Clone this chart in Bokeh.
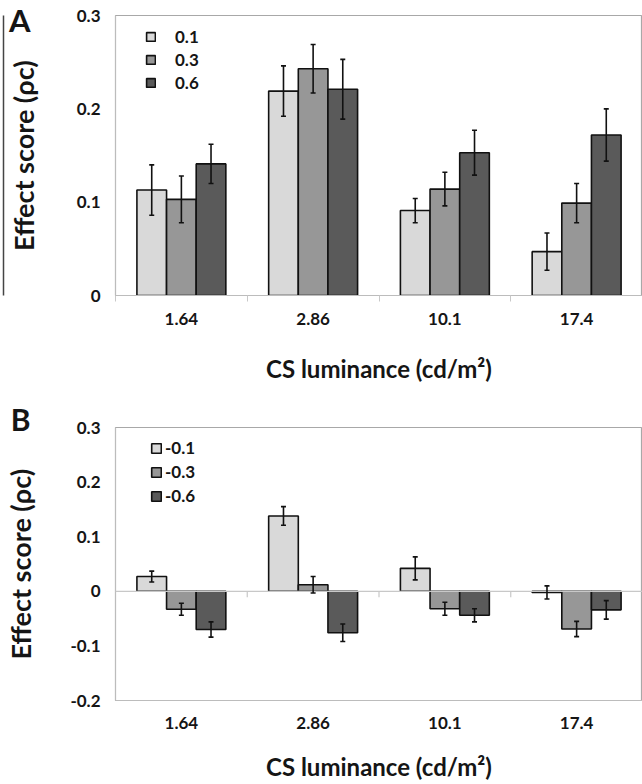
from bokeh.plotting import figure
from bokeh.models import (Range1d, FixedTicker, Whisker, TeeHead, ColumnDataSource,
                          Legend, LegendItem, Span, LinearAxis)
from bokeh.layouts import column
from bokeh.embed import file_html
from bokeh.resources import INLINE

# ---------------- data ----------------
categories = ["1.64", "2.86", "10.1", "17.4"]

A_series = ["0.1", "0.3", "0.6"]
A_vals_01 = [0.113, 0.219, 0.091, 0.047]
A_err_01 = [0.027, 0.027, 0.013, 0.020]
A_vals_03 = [0.103, 0.243, 0.114, 0.099]
A_err_03 = [0.025, 0.026, 0.018, 0.021]
A_vals_06 = [0.141, 0.221, 0.153, 0.172]
A_err_06 = [0.021, 0.032, 0.024, 0.028]

B_series = ["-0.1", "-0.3", "-0.6"]
B_vals_m01 = [0.027, 0.138, 0.042, -0.002]
B_err_m01 = [0.010, 0.017, 0.021, 0.012]
B_vals_m03 = [-0.033, 0.012, -0.032, -0.069]
B_err_m03 = [0.011, 0.015, 0.012, 0.014]
B_vals_m06 = [-0.070, -0.076, -0.044, -0.034]
B_err_m06 = [0.014, 0.016, 0.012, 0.017]

A_yticks = [0, 0.1, 0.2, 0.3]
A_ytick_labels = ["0", "0.1", "0.2", "0.3"]
B_yticks = [-0.2, -0.1, 0, 0.1, 0.2, 0.3]
B_ytick_labels = ["-0.2", "-0.1", "0", "0.1", "0.2", "0.3"]

x_title = "CS luminance (cd/m\u00b2)"
y_title = "Effect score (\u03c1c)"

colors = ["#d9d9d9", "#979797", "#5a5a5a"]
FONT = "Lato"
INK = "#151515"
BAR_W = 0.225
n = len(categories)
centers = [i + 0.5 for i in range(n)]
bounds = [float(i) for i in range(n + 1)]

W = 642
FRAME_L = 115


def make_panel(height, top, frame_h, ylo, yhi, yticks, ylabels, series, vals, errs,
               legend_loc, legend_spacing, legend_standoff, glyph, xtick_standoff,
               xlabel_standoff, zero_axis, letter, letter_y, letter_size, letter_lh,
               letter_standoff, ylabel_standoff, rule):
    p = figure(width=W, height=height, x_range=Range1d(0, n), y_range=Range1d(ylo, yhi),
               output_backend="svg", toolbar_location=None,
               min_border_left=FRAME_L, min_border_right=0,
               min_border_top=top, min_border_bottom=height - top - frame_h)
    p.grid.visible = False
    p.outline_line_color = "#a8a8a8"
    p.outline_line_width = 1.2
    p.background_fill_color = "white"
    p.border_fill_color = "white"

    # main y axis (tick labels only)
    ya = p.yaxis[0]
    ya.ticker = FixedTicker(ticks=yticks)
    ya.major_label_overrides = {t: l for t, l in zip(yticks, ylabels)}
    ya.major_tick_out = 0
    ya.major_tick_in = 0
    ya.minor_tick_out = 0
    ya.minor_tick_in = 0
    ya.major_label_standoff = 15
    ya.major_label_text_font = FONT
    ya.major_label_text_font_style = "bold"
    ya.major_label_text_font_size = "17px"
    ya.major_label_text_color = INK
    ya.axis_line_color = "#bcbcbc"

    # outer left axis: carries the panel letter (as its only tick label) and the y title
    outer = LinearAxis(ticker=FixedTicker(ticks=[letter_y]),
                       major_label_overrides={letter_y: letter},
                       axis_line_color=None, major_tick_out=0, major_tick_in=0,
                       minor_tick_out=0, minor_tick_in=0,
                       major_label_standoff=letter_standoff,
                       major_label_text_font=FONT, major_label_text_font_style="bold",
                       major_label_text_font_size=letter_size,
                       major_label_text_line_height=letter_lh,
                       major_label_text_color=INK,
                       axis_label=y_title, axis_label_standoff=ylabel_standoff,
                       axis_label_text_font=FONT, axis_label_text_font_style="bold",
                       axis_label_text_font_size="27px", axis_label_text_color=INK)
    p.add_layout(outer, "left")

    if rule:
        edge = LinearAxis(ticker=FixedTicker(ticks=[]), axis_line_color="#444444",
                          axis_line_width=1.5, major_tick_out=0, major_tick_in=0,
                          minor_tick_out=0, minor_tick_in=0,
                          major_label_text_font_size="0px", major_label_standoff=0)
        p.add_layout(edge, "left")

    # x axis
    xa = p.xaxis[0]
    xa.ticker = FixedTicker(ticks=centers, minor_ticks=[] if zero_axis else bounds)
    xa.major_label_overrides = {c: l for c, l in zip(centers, categories)}
    xa.major_tick_out = 0
    xa.major_tick_in = 0
    xa.minor_tick_in = 0
    xa.minor_tick_out = 6
    xa.minor_tick_line_color = "#c8c8c8"
    xa.major_label_standoff = xtick_standoff
    xa.major_label_text_font = FONT
    xa.major_label_text_font_style = "bold"
    xa.major_label_text_font_size = "17px"
    xa.major_label_text_color = INK
    xa.axis_line_color = "#bcbcbc"
    xa.axis_label = x_title
    xa.axis_label_text_font = FONT
    xa.axis_label_text_font_style = "bold"
    xa.axis_label_text_font_size = "24px"
    xa.axis_label_text_color = INK
    xa.axis_label_standoff = xlabel_standoff

    if zero_axis:
        p.add_layout(Span(location=0, dimension="width", line_color="#c8c8c8", line_width=1.2))
        p.segment(x0=bounds[1:-1], x1=bounds[1:-1], y0=[0] * (n - 1),
                  y1=[-(yhi - ylo) * 6 / frame_h] * (n - 1), line_color="#c8c8c8", line_width=1.2)

    items = []
    for j, (name, v, e) in enumerate(zip(series, vals, errs)):
        xs = [c + (j - 1) * BAR_W for c in centers]
        src = ColumnDataSource(dict(x=xs, top=v, upper=[a + b for a, b in zip(v, e)],
                                    lower=[a - b for a, b in zip(v, e)]))
        r = p.vbar(x="x", top="top", bottom=0, width=BAR_W, source=src,
                   fill_color=colors[j], line_color="#111111", line_width=1.6)
        wk = Whisker(base="x", upper="upper", lower="lower", source=src, level="overlay",
                     line_color="#111111", line_width=1.6,
                     upper_head=TeeHead(size=5, line_color="#111111", line_width=1.6),
                     lower_head=TeeHead(size=5, line_color="#111111", line_width=1.6))
        p.add_layout(wk)
        items.append(LegendItem(label=name, renderers=[r]))

    leg = Legend(items=items, location=legend_loc, orientation="vertical",
                 glyph_width=glyph, glyph_height=glyph, label_standoff=legend_standoff,
                 label_height=14, spacing=legend_spacing, padding=0, margin=0,
                 border_line_color=None, background_fill_alpha=0,
                 label_text_font=FONT, label_text_font_style="bold",
                 label_text_font_size="17px", label_text_color=INK)
    p.add_layout(leg)
    return p


# ---------- panel A ----------
HA, TOPA, FHA = 392, 15, 280
pA = make_panel(HA, TOPA, FHA, 0, 0.3, A_yticks, A_ytick_labels, A_series,
                [A_vals_01, A_vals_03, A_vals_06], [A_err_01, A_err_03, A_err_06],
                (30, 202), 2, 19, 11, 11, 26, False,
                "A", 0.295, "31px", 1.2, 43, -34, True)

# ---------- panel B ----------
HB, TOPB, FHB = 392, 35, 273
pB = make_panel(HB, TOPB, FHB, -0.2, 0.3, B_yticks, B_ytick_labels, B_series,
                [B_vals_m01, B_vals_m03, B_vals_m06], [B_err_m01, B_err_m03, B_err_m06],
                (35, 194), 3, 3, 12, 16, 20, True,
                "B\n ", 0.3, "30px", 0.5, 37, -29, False)

layout = column(pA, pB, spacing=0)
open("out.html", "w").write(file_html(layout, INLINE))
